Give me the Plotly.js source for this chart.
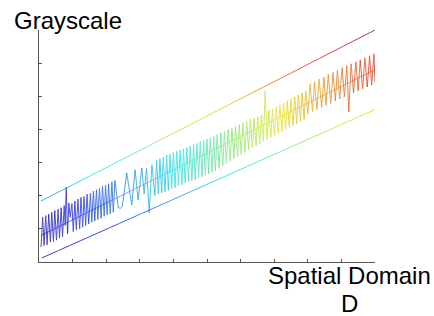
<!DOCTYPE html>
<html><head><meta charset="utf-8">
<script src="https://cdn.plot.ly/plotly-3.0.1.min.js"></script>
<style>html,body{margin:0;padding:0;background:#fff}#chart{width:434px;height:316px}</style>
</head><body><div id="chart"></div>
<script>
// ---- data ----
const sigX = [
0.06,0.11,0.15,0.20,0.24,0.29,0.34,0.38,0.43,0.47,0.52,0.57,0.61,0.66,0.70,0.75,0.78,0.81,0.85,0.89,
0.93,0.98,1.02,1.07,1.11,1.16,1.21,1.25,1.30,1.34,1.39,1.43,1.48,1.53,1.57,1.62,1.66,1.71,1.75,1.80,
1.85,1.89,1.94,1.98,2.03,2.07,2.12,2.17,2.21,2.26,
2.36,2.42,2.48,2.61,2.76,2.86,2.95,3.06,3.13,3.20,3.28,3.36,
3.45,3.50,3.55,3.60,3.65,3.70,3.75,3.80,3.85,3.90,3.95,4.00,4.05,4.10,4.15,4.20,4.25,4.30,4.35,4.40,
4.45,4.50,4.55,4.60,4.65,4.70,4.75,4.80,4.85,4.90,4.95,5.00,5.05,5.10,5.15,5.20,5.25,
5.30,5.36,5.41,5.47,5.52,5.58,5.63,5.69,5.74,5.80,5.85,5.91,5.96,6.02,6.07,6.13,6.18,6.24,6.29,6.35,
6.40,6.46,6.51,6.57,6.62,6.68,6.73,6.79,6.84,6.90,6.95,7.01,7.06,7.12,7.17,7.23,7.28,7.34,7.39,7.45,
7.50,7.56,7.61,7.67,7.72,7.78,7.83,7.89,7.94,
8.00,8.07,8.14,8.20,8.27,8.34,8.41,8.48,8.54,8.61,8.68,8.75,8.82,8.88,8.95,9.02,9.09,9.16,9.22,9.29,
9.36,9.43,9.50,9.56,9.63,9.70,9.77,9.84,9.90,9.97,10.00
];
const sigY = [
0.45,1.35,0.50,1.40,0.52,1.44,0.60,1.50,0.62,1.55,0.66,1.60,0.72,1.64,0.76,1.70,1.10,2.26,0.85,1.78,
1.35,1.76,0.92,1.84,0.97,1.90,1.00,1.95,1.05,1.98,1.10,2.05,1.15,2.08,1.20,2.14,1.24,2.18,1.28,2.22,
1.32,2.28,1.38,2.32,1.42,2.36,1.45,2.42,1.50,2.46,
1.64,1.62,1.68,2.69,1.72,2.78,1.87,2.84,2.05,2.82,1.48,2.93,
2.00,3.08,2.05,3.12,2.08,3.17,2.12,3.22,2.16,3.24,2.22,3.30,2.24,3.34,2.30,3.38,2.33,3.42,2.38,3.46,
2.42,3.50,2.46,3.55,2.48,3.59,2.54,3.63,2.57,3.66,2.62,3.71,2.66,3.76,2.71,3.80,2.75,
3.84,2.82,3.90,2.90,3.94,2.98,4.00,3.04,4.04,3.12,4.10,3.18,4.14,3.24,4.20,3.30,4.24,3.38,4.30,3.44,
4.34,3.50,4.40,3.56,4.44,3.64,5.16,3.70,4.58,3.76,4.62,3.82,4.68,3.88,4.74,3.94,4.80,4.00,4.86,4.06,
4.92,4.12,4.98,4.18,5.04,4.24,5.10,4.30,5.16,
4.48,5.36,4.54,5.44,4.60,5.52,4.66,5.58,4.72,5.66,4.78,5.72,4.86,5.78,4.92,5.86,4.98,5.92,4.53,5.98,
5.10,6.04,5.16,6.10,5.22,6.16,5.28,6.22,5.34,6.28,5.40
];
const upperX = [0.06, 10.0];
const upperY = [1.84, 7.0];
const lowerX = [0.08, 10.0];
const lowerY = [0.12, 4.6];
const trendX = [0.06, 10.0];
const trendY = [0.80, 5.80];
const yLabel = 'Grayscale';
const xLabel1 = 'Spatial Domain';
const xLabel2 = 'D';

// ---- styling helpers ----
function clamp(v){return Math.max(0, Math.min(1, v));}
function jet(t, fade){
  const r = clamp(1.5 - Math.abs(4*t - 3));
  const g = clamp(1.5 - Math.abs(4*t - 2));
  const b = clamp(1.5 - Math.abs(4*t - 1));
  const m = c => Math.round((c*(1-fade) + 0.55*fade)*255);
  return 'rgb(' + m(r) + ',' + m(g) + ',' + m(b) + ')';
}
const NB = 64;
const bins = {};
function addSeg(x0,y0,x1,y1,t,w,op){
  const k = Math.max(0, Math.min(NB-1, Math.round(t*(NB-1))));
  const key = k + '_' + w + '_' + op;
  if(!bins[key]) bins[key] = {x:[], y:[], k:k, w:w, op:op};
  bins[key].x.push(x0, x1, null);
  bins[key].y.push(y0, y1, null);
}
// signal: colour follows position along the domain
const tx = x => 0.05 + 0.08*x;
for(let i=0;i<sigX.length-1;i++){
  addSeg(sigX[i], sigY[i], sigX[i+1], sigY[i+1], tx((sigX[i]+sigX[i+1])/2), 1, 0.8);
}
// straight lines: colour follows grayscale value; split only for colouring
function addLine(X, Y, tf, w, op){
  const n = 60;
  for(let j=0;j<n;j++){
    const a = j/n, b = (j+1)/n;
    const x0 = X[0] + (X[1]-X[0])*a, x1 = X[0] + (X[1]-X[0])*b;
    const y0 = Y[0] + (Y[1]-Y[0])*a, y1 = Y[0] + (Y[1]-Y[0])*b;
    addSeg(x0, y0, x1, y1, tf((x0+x1)/2, (y0+y1)/2), w, op);
  }
}
const ty = (x,y) => y/7.03;
addLine(upperX, upperY, ty, 1, 0.85);
addLine(lowerX, lowerY, ty, 1, 0.85);
addLine(trendX, trendY, (x,y)=>tx(x), 0.8, 0.8);

const traces = Object.values(bins).map(b => ({
  type:'scatter', mode:'lines', x:b.x, y:b.y, connectgaps:false, opacity:b.op,
  line:{color:jet(b.k/(NB-1), 0.22), width:b.w}, hoverinfo:'skip', showlegend:false
}));

const axisCommon = {
  showgrid:false, zeroline:false, showline:true, linecolor:'#555', linewidth:1,
  ticks:'inside', ticklen:3, tickcolor:'#555', tickwidth:1, showticklabels:false,
  dtick:1, tick0:0, fixedrange:true
};
const layout = {
  width:434, height:316,
  margin:{l:39, r:59, t:29.5, b:54, pad:0},
  paper_bgcolor:'#fff', plot_bgcolor:'#fff',
  xaxis:Object.assign({range:[0,10]}, axisCommon),
  yaxis:Object.assign({range:[0,7]}, axisCommon),
  font:{family:'Liberation Sans, Arial, sans-serif', color:'#000'},
  annotations:[
    {text:yLabel, xref:'paper', yref:'paper', x:(12-39)/336, y:(262-19.7)/232.5,
     xanchor:'left', yanchor:'middle', showarrow:false, font:{size:24, color:'#000'}},
    {text:xLabel1, xref:'paper', yref:'paper', x:(349-39)/336, y:(262-275.4)/232.5,
     xanchor:'center', yanchor:'middle', showarrow:false, font:{size:24, color:'#000'}},
    {text:xLabel2, xref:'paper', yref:'paper', x:(349-39)/336, y:(262-303.7)/232.5,
     xanchor:'center', yanchor:'middle', showarrow:false, font:{size:24, color:'#000'}}
  ]
};
Plotly.newPlot('chart', traces, layout, {staticPlot:true, displayModeBar:false});
</script>
</body></html>
